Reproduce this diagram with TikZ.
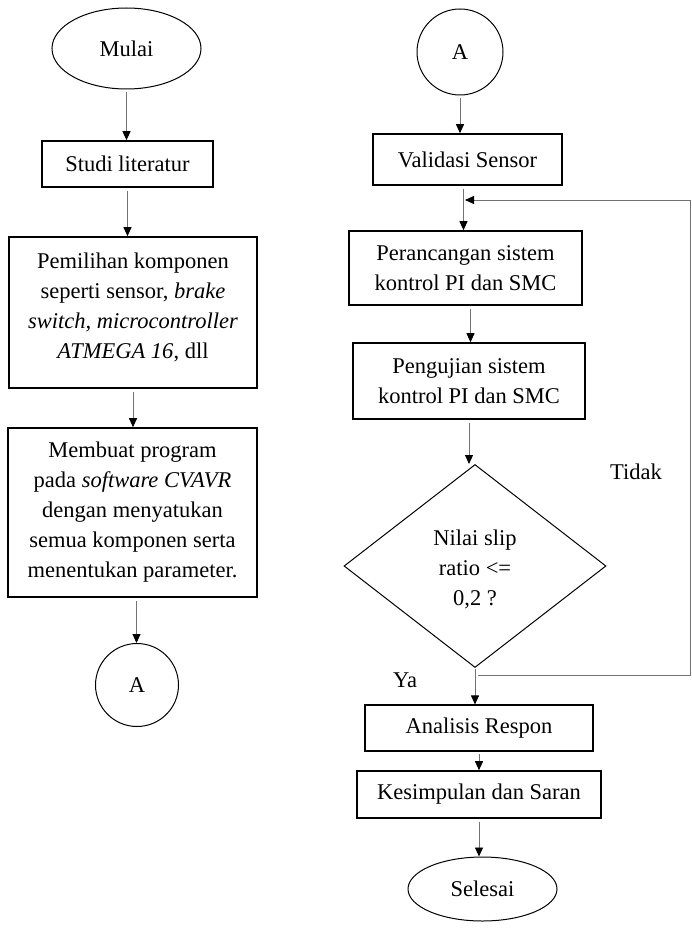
\documentclass[tikz,border=0pt]{standalone}
\usepackage{fontspec}
\setmainfont{Liberation Serif}
\usetikzlibrary{shapes.geometric,arrows.meta}
\begin{document}
\begin{tikzpicture}[x=1pt,y=-1pt,
  every node/.style={font=\fontsize{22.5}{30}\selectfont, align=center, inner sep=0pt},
  procbox/.style={draw=black, line width=1.6pt, rectangle},
  thinbox/.style={draw=black, line width=1.1pt, rectangle},
  terminal/.style={draw=black, line width=1pt, ellipse},
  connector/.style={draw=black, line width=1pt, circle},
  decision/.style={draw=black, line width=1pt, diamond},
  flow/.style={draw=black!55, line width=0.9pt, -{Triangle[width=8pt,length=9pt,fill=black,color=black]}, shorten <=3pt},
  plain/.style={draw=black!55, line width=0.9pt},
  lbl/.style={font=\fontsize{22.5}{26}\selectfont}
]
\useasboundingbox (0,0) rectangle (691,936);
% left column
\node[terminal, minimum width=149, minimum height=81] (mulai) at (126.5,48.5) {Mulai};
\node[procbox, minimum width=171, minimum height=46] (studi) at (127.5,164) {Studi literatur};
\node[procbox, minimum width=248, minimum height=151] (pilih) at (133,312.5) {};
\node (piliht) at (133,307) {Pemilihan komponen\\seperti sensor, \textit{brake}\\\textit{switch, microcontroller}\\\textit{ATMEGA 16}, dll};
\node[procbox, minimum width=249, minimum height=169] (buat) at (132.5,512.5) {Membuat program\\pada \textit{software CVAVR}\\dengan menyatukan\\semua komponen serta\\menentukan parameter.};
\node[connector, minimum size=83] (aL) at (137,685) {A};
% right column
\node[connector, minimum size=86] (aR) at (460,52) {A};
\node[procbox, minimum width=189, minimum height=51] (valid) at (467.5,159.5) {Validasi Sensor};
\node[procbox, minimum width=233, minimum height=74] (rancang) at (465.5,268) {Perancangan sistem\\kontrol PI dan SMC};
\node[procbox, minimum width=232, minimum height=76] (uji) at (469,381) {Pengujian sistem\\kontrol PI dan SMC};
\node[decision, minimum width=262, minimum height=203, aspect=1.29] (cek) at (475,566) {};
\node (cekt) at (475,569) {Nilai slip\\ratio <=\\0,2 ?};
\node[thinbox, minimum width=228, minimum height=46] (analisis) at (479,728) {Analisis Respon};
\node[procbox, minimum width=244, minimum height=47] (simpul) at (479,794.5) {Kesimpulan dan Saran};
\node[terminal, minimum width=149, minimum height=64] (selesai) at (482.5,889) {Selesai};
\node[lbl] (tidak) at (636,472) {Tidak};
\node[lbl] (ya) at (405,680) {Ya};
% connectors left
\draw[flow] (mulai.south) -- (mulai.south |- studi.north);
\draw[flow] (studi.south) -- (studi.south |- pilih.north);
\draw[flow] (pilih.south) -- (pilih.south |- buat.north);
\draw[flow] ([xshift=4pt]buat.south) -- ([xshift=4pt]buat.south |- aL.north);
% connectors right
\draw[flow] (aR.south) -- (aR.south |- valid.north);
\draw[flow] ([xshift=-4pt]valid.south) -- ([xshift=-4pt]valid.south |- rancang.north);
\draw[flow] ([xshift=5pt]rancang.south) -- ([xshift=5pt]rancang.south |- uji.north);
\draw[flow] (uji.south) -- (uji.south |- cek.north);
\coordinate (j2) at (478,675);
\coordinate (rb) at (690,675);
\coordinate (rt) at (690,200);
\coordinate (j1) at (465,200);
\draw[flow, shorten <=1pt] (cek.south) -- (cek.south |- analisis.north);
\draw[plain] (j2) -- (rb) -- (rt);
\draw[flow, shorten <=0pt] (rt) -- (j1);
\draw[flow, shorten <=2pt] (analisis.south) -- (analisis.south |- simpul.north);
\draw[flow] (simpul.south) -- (simpul.south |- selesai.north);
\end{tikzpicture}
\end{document}
